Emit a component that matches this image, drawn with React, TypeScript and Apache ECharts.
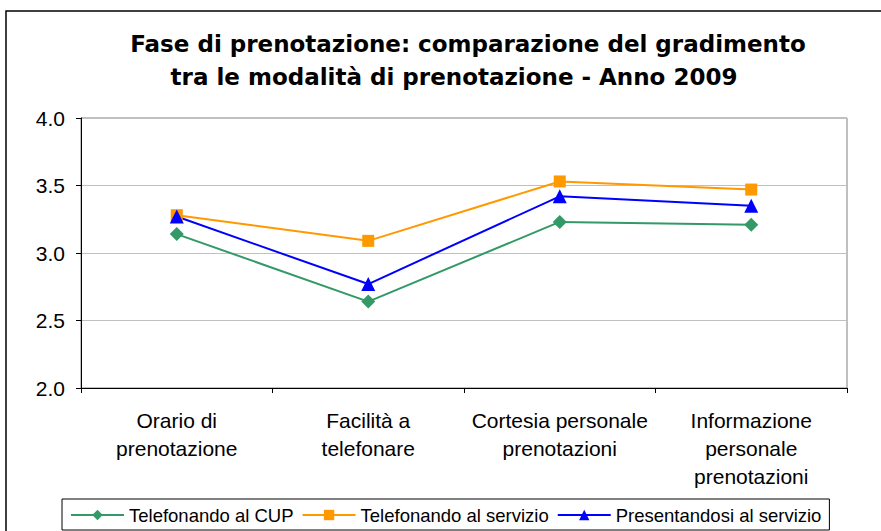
import React, { useEffect, useRef } from "react";
import * as echarts from "echarts";

const titleLines = [
  "Fase di prenotazione: comparazione del gradimento",
  "tra le modalità di prenotazione - Anno 2009",
];
const categories = [
  "Orario di\nprenotazione",
  "Facilità a\ntelefonare",
  "Cortesia personale\nprenotazioni",
  "Informazione\npersonale\nprenotazioni",
];
const seriesNames = [
  "Telefonando al CUP",
  "Telefonando al servizio",
  "Presentandosi al servizio",
];
const cupValues = [3.14, 2.64, 3.23, 3.21];
const servizioTelValues = [3.28, 3.09, 3.53, 3.47];
const presentandosiValues = [3.27, 2.77, 3.42, 3.35];
const yMin = 2.0;
const yMax = 4.0;
const yInterval = 0.5;

export default function App() {
  const ref = useRef<HTMLDivElement>(null);
  useEffect(() => {
    if (!ref.current) return;
    const chart = echarts.init(ref.current, undefined, { renderer: "svg" });
    const axisFont = "'Liberation Sans', Arial, sans-serif";
    const titleStyle = {
      fontFamily: "'DejaVu Sans', sans-serif",
      fontWeight: "bold",
      fontSize: 23,
      lineHeight: 26,
      color: "#000000",
    };
    chart.setOption({
      animation: false,
      backgroundColor: "#ffffff",
      title: [
        {
          text: titleLines[0],
          left: 468,
          top: 31,
          padding: 0,
          textAlign: "center",
          textStyle: titleStyle,
        },
        {
          text: titleLines[1],
          left: 454,
          top: 64,
          padding: 0,
          textAlign: "center",
          textStyle: titleStyle,
        },
      ],
      graphic: [
        {
          type: "rect",
          shape: { x: 6, y: 11, width: 900, height: 600 },
          style: { fill: "none", stroke: "#000000", lineWidth: 1.5 },
          silent: true,
          z: -1,
        },
      ],
      legend: {
        left: 62,
        top: 499,
        padding: [6, 8, 5, 8],
        borderColor: "#000000",
        borderWidth: 1,
        itemWidth: 53,
        itemHeight: 13,
        itemGap: 8,
        data: seriesNames,
        textStyle: {
          fontFamily: axisFont,
          fontSize: 18.5,
          lineHeight: 20,
          color: "#000000",
        },
      },
      grid: {
        left: 81,
        right: 34,
        top: 118,
        bottom: 143,
        show: true,
        borderColor: "#808080",
        borderWidth: 1,
        backgroundColor: "#ffffff",
      },
      xAxis: {
        type: "category",
        data: categories,
        boundaryGap: true,
        axisLine: { show: true, lineStyle: { color: "#000000", width: 1 } },
        axisTick: { show: true, length: 5, inside: false, lineStyle: { color: "#000000" } },
        axisLabel: {
          interval: 0,
          margin: 18,
          fontFamily: axisFont,
          fontSize: 21,
          lineHeight: 28,
          color: "#000000",
        },
        splitLine: { show: false },
      },
      yAxis: {
        type: "value",
        min: yMin,
        max: yMax,
        interval: yInterval,
        axisLine: { show: true, lineStyle: { color: "#000000", width: 1 } },
        axisTick: { show: true, length: 5, inside: false, lineStyle: { color: "#000000" } },
        axisLabel: {
          margin: 16,
          fontFamily: axisFont,
          fontSize: 21,
          color: "#000000",
          formatter: (v: number) => v.toFixed(1),
        },
        splitLine: { show: true, lineStyle: { color: "#c0c0c0", width: 1 } },
      },
      series: [
        {
          name: seriesNames[0],
          type: "line",
          data: cupValues,
          symbol: "diamond",
          symbolSize: 14,
          color: "#339966",
          lineStyle: { width: 2, color: "#339966" },
          itemStyle: { color: "#339966" },
        },
        {
          name: seriesNames[1],
          type: "line",
          data: servizioTelValues,
          symbol: "rect",
          symbolSize: 12,
          color: "#ff9900",
          lineStyle: { width: 2, color: "#ff9900" },
          itemStyle: { color: "#ff9900" },
        },
        {
          name: seriesNames[2],
          type: "line",
          data: presentandosiValues,
          symbol: "triangle",
          symbolSize: 14,
          color: "#0000ff",
          lineStyle: { width: 2, color: "#0000ff" },
          itemStyle: { color: "#0000ff" },
        },
      ],
    });
    return () => chart.dispose();
  }, []);
  return (
    <div
      ref={ref}
      style={{ position: "fixed", left: 0, top: 0, width: 881, height: 531 }}
    />
  );
}
